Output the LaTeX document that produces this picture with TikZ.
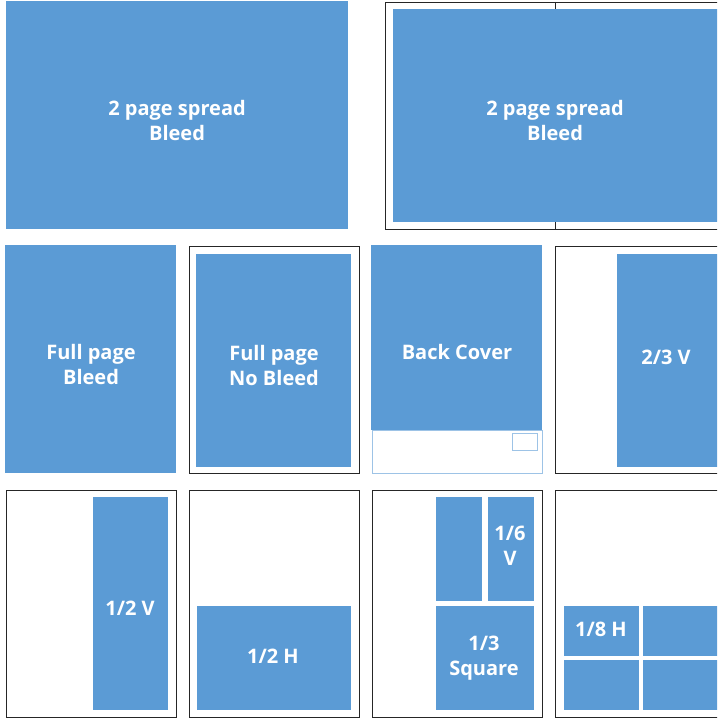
\documentclass[tikz,border=0pt]{standalone}
\usepackage{fontspec}
\setmainfont{Open Sans}
\usepackage{tikz}
\usetikzlibrary{positioning}
\definecolor{adblue}{HTML}{5B9BD5}
\definecolor{edgeblue}{HTML}{9DC3E6}

\begin{document}
\begin{tikzpicture}[x=1pt,y=-1pt,
  blk/.style={fill=adblue},
  page/.style={draw=black!85, line width=0.9pt, fill=white},
  lbl/.style={text=white, font=\bfseries\fontsize{20}{25}\selectfont, align=center, inner sep=0pt}]
  \useasboundingbox (0,0) rectangle (717,719);
  \clip (0,0) rectangle (717,719);

  \draw[page] (385,2) rectangle (725,229);
  \draw[black!85, line width=0.9pt] (555,2) -- (555,229);
  \foreach \x in {189,555} {
    \draw[page] (\x,246) rectangle (\x+170,473);
  }
  \foreach \x in {6,189,372,555} {
    \draw[page] (\x,490) rectangle (\x+170,717);
  }

  \fill[blk] (6,1) rectangle (348,229);
  \fill[blk] (393,9) rectangle (722,222);
  \fill[blk] (5,245) rectangle (176,473);
  \fill[blk] (196,254) rectangle (351,467);
  \fill[blk] (371,245) rectangle (542,430);
  \draw[edgeblue, line width=0.8pt] (372,430) rectangle (542,473);
  \draw[edgeblue, line width=0.8pt] (512,433) rectangle (537,450);
  \fill[blk] (617,254) rectangle (722,467);

  \fill[blk] (93,497) rectangle (168,710);
  \fill[blk] (197,606) rectangle (351,710);
  \foreach \x in {436,488} {
    \fill[blk] (\x,497) rectangle (\x+46,601);
  }
  \fill[blk] (436,606) rectangle (534,710);
  \foreach \y in {606,660} {
    \fill[blk] (564,\y) rectangle (639,\y+50);
    \fill[blk] (643,\y) rectangle (722,\y+50);
  }

  \node[lbl] (spreadA) at (177,121) {2 page spread\\Bleed};
  \node[lbl] (spreadB) at (555,121) {2 page spread\\Bleed};
  \node[lbl] (fullA) at (91,364) {Full page\\Bleed};
  \node[lbl] (fullB) at (274,365) {Full page\\No Bleed};
  \node[lbl] (back) at (457,352) {Back Cover};
  \node[lbl] (twothird) at (666,357) {2/3 V};
  \node[lbl] (halfV) at (130,608) {1/2 V};
  \node[lbl] (halfH) at (273,656) {1/2 H};
  \node[lbl] (sixth) at (510,546) {1/6\\V};
  \node[lbl] (third) at (484,658) {1/3\\Square};
  \node[lbl] (eighth) at (601,629) {1/8 H};
\end{tikzpicture}
\end{document}
